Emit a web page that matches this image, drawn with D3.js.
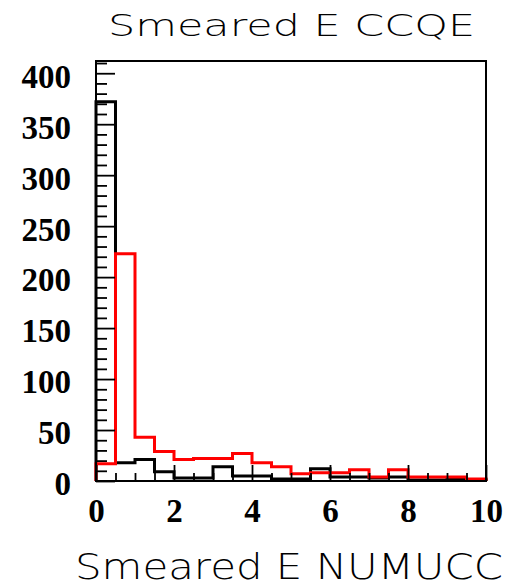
<!DOCTYPE html>
<html>
<head>
<meta charset="utf-8">
<script src="https://cdn.jsdelivr.net/npm/d3@7"></script>
<style>
  html, body { margin: 0; padding: 0; background: #fff; }
  svg { display: block; }
</style>
</head>
<body>
<script>
// Histogram bin edges (20 bins of width 0.5 over 0..10)
const binEdges = [0, 0.5, 1, 1.5, 2, 2.5, 3, 3.5, 4, 4.5, 5, 5.5, 6, 6.5, 7, 7.5, 8, 8.5, 9, 9.5, 10];
// Counts per bin
const blackCounts = [372, 18, 21, 9, 3, 3, 14, 5, 5, 2, 2, 12, 4, 4, 3, 4, 1, 1, 2, 1];
const redCounts   = [17, 223, 43, 29, 21, 22, 22, 27, 18, 14, 7, 8, 8, 11, 4, 11, 4, 4, 4, 2];
// Axis tick values
const xTickLabels = [0, 2, 4, 6, 8, 10];
const yTickLabels = [0, 50, 100, 150, 200, 250, 300, 350, 400];

const W = 507, H = 588;
const svg = d3.select("body").append("svg").attr("width", W).attr("height", H);

const x = d3.scaleLinear().domain([0, 10]).range([96, 486]);
const y = d3.scaleLinear().domain([0, 412]).range([481, 61]);

const tickFont = "'Liberation Serif', 'Times New Roman', serif";
const labelFont = "'DejaVu Sans', 'Noto Sans', sans-serif";

// Step outline of a histogram, starting and ending on the baseline
function stepPath(counts) {
  const pts = [[x(binEdges[0]), y(0)]];
  counts.forEach((c, i) => {
    pts.push([x(binEdges[i]), y(c)]);
    pts.push([x(binEdges[i + 1]), y(c)]);
  });
  pts.push([x(binEdges[binEdges.length - 1]), y(0)]);
  return d3.line()(pts);
}

// Histograms: black first, red on top
svg.append("path").attr("d", stepPath(blackCounts))
  .attr("fill", "none").attr("stroke", "#000").attr("stroke-width", 3);
svg.append("path").attr("d", stepPath(redCounts))
  .attr("fill", "none").attr("stroke", "#ff0000").attr("stroke-width", 3);

// Y axis: minor ticks every 10, major ticks with labels every 50
const yMinor = d3.range(0, 411, 10).filter(v => v % 50 !== 0);
svg.append("g").attr("transform", `translate(${x(0)},0)`)
  .call(d3.axisLeft(y).tickValues(yMinor).tickSize(-11).tickFormat(""))
  .call(g => g.select(".domain").remove())
  .call(g => g.selectAll("line").attr("stroke", "#000").attr("stroke-width", 1.8));

svg.append("g").attr("transform", `translate(${x(0)},0)`)
  .call(d3.axisLeft(y).tickValues(yTickLabels).tickSize(-19).tickPadding(25).tickFormat(d3.format("d")))
  .call(g => g.select(".domain").remove())
  .call(g => g.selectAll("line").attr("stroke", "#000").attr("stroke-width", 1.8))
  .call(g => g.selectAll("text")
    .attr("dy", "0.42em")
    .attr("fill", "#000")
    .style("font-family", tickFont)
    .style("font-weight", "bold")
    .style("font-size", "33px"));

// X axis: minor ticks every 0.5, major ticks with labels every 2
const xMinor = d3.range(0.5, 10, 0.5).filter(v => v % 2 !== 0);
svg.append("g").attr("transform", `translate(0,${y(0)})`)
  .call(d3.axisBottom(x).tickValues(xMinor).tickSize(-8).tickFormat(""))
  .call(g => g.select(".domain").remove())
  .call(g => g.selectAll("line").attr("stroke", "#000").attr("stroke-width", 1.8));

svg.append("g").attr("transform", `translate(0,${y(0)})`)
  .call(d3.axisBottom(x).tickValues(xTickLabels).tickSize(-16).tickPadding(18).tickFormat(d3.format("d")))
  .call(g => g.select(".domain").remove())
  .call(g => g.selectAll("line").attr("stroke", "#000").attr("stroke-width", 1.8))
  .call(g => g.selectAll("text")
    .attr("fill", "#000")
    .style("font-family", tickFont)
    .style("font-weight", "bold")
    .style("font-size", "33px"));

// Frame
svg.append("rect")
  .attr("x", x(0)).attr("y", y(412))
  .attr("width", x(10) - x(0)).attr("height", y(0) - y(412))
  .attr("fill", "none").attr("stroke", "#000").attr("stroke-width", 2);

// Title
svg.append("text")
  .attr("x", 108).attr("y", 36)
  .attr("textLength", 367).attr("lengthAdjust", "spacingAndGlyphs")
  .style("font-family", labelFont).style("font-weight", 200)
  .style("font-size", "31px").attr("fill", "#000")
  .text("Smeared E CCQE");

// X axis title
svg.append("text")
  .attr("x", 75).attr("y", 579)
  .attr("textLength", 428).attr("lengthAdjust", "spacingAndGlyphs")
  .style("font-family", labelFont).style("font-weight", 200)
  .style("font-size", "36px").attr("fill", "#000")
  .text("Smeared E NUMUCC");
</script>
</body>
</html>
